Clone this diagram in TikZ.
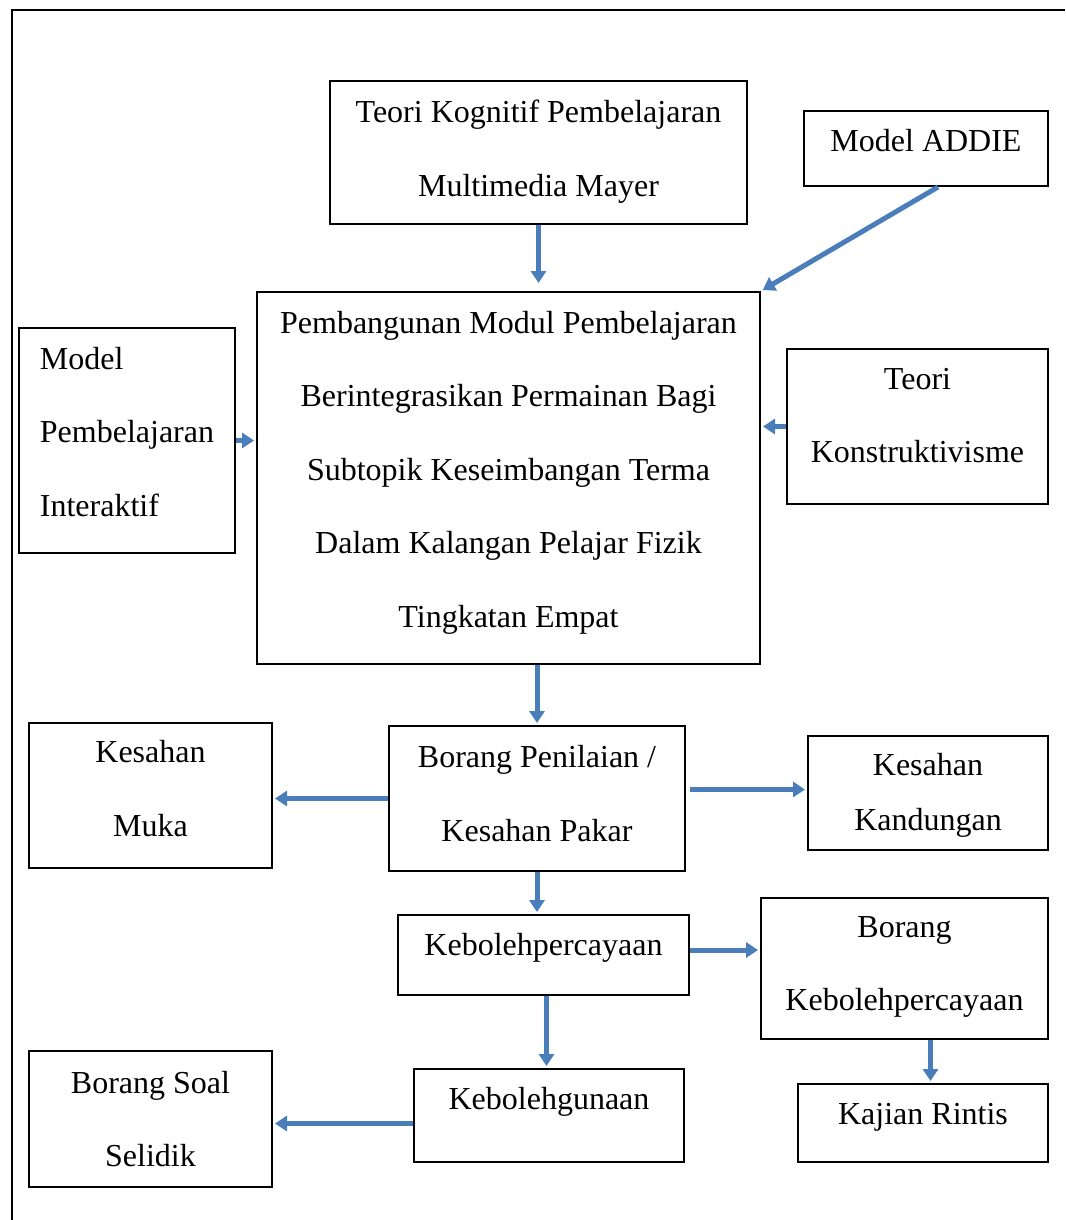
\documentclass[tikz,border=0pt]{standalone}
\usepackage[svgnames]{xcolor}
\usepackage{fontspec}
\setmainfont{Liberation Serif}
\usepackage{tikz}
\usetikzlibrary{arrows.meta,positioning}
\definecolor{arrowblue}{HTML}{4A7EBB}
\tikzset{
    %Define standard arrow tip
    >={Triangle[length=6pt,width=7.5pt]},
    %Define how far the text is pushed up (lift) or down (drop) in its box
    lift/.style={execute at end node=\rule[-#1]{0pt}{0pt}},
    drop/.style={execute at end node=\rule{0pt}{#1}},
    %Define style for boxes
    box/.style={
           rectangle,
           draw=black, line width=1pt,
           inner sep=0pt,
           anchor=north west,
           align=center,
           font=\fontsize{16}{36.75}\selectfont},
    % Define arrow style
    flow/.style={
           ->,
           draw=arrowblue,
           line width=2.5pt,
           shorten >=1pt}
}
\begin{document}
\begin{tikzpicture}[x=0.5pt,y=-0.5pt]
\useasboundingbox (0,0) rectangle (1065,1220);
\draw[line width=1pt] (12,1220) -- (12,10) -- (1065,10);
 %nodes
\node[box, lift=4.2pt, minimum width=208.5pt, minimum height=71.5pt] (kogn) at (329,80)
    {Teori Kognitif Pembelajaran\\Multimedia Mayer};
\node[box, lift=8.4pt, minimum width=122pt, minimum height=37.5pt] (addie) at (803,110)
    {Model ADDIE};
\node[box, lift=8.9pt, minimum width=251.5pt, minimum height=186pt] (pemb) at (256,291)
    {Pembangunan Modul Pembelajaran\\Berintegrasikan Permainan Bagi\\Subtopik Keseimbangan Terma\\Dalam Kalangan Pelajar Fizik\\Tingkatan Empat};
\node[box, lift=8.9pt, align=left, minimum width=108pt, minimum height=112.5pt] (inter) at (18,327)
    {Model\\Pembelajaran\\Interaktif};
\node[box, lift=11.1pt, minimum width=130.5pt, minimum height=77.5pt] (konst) at (786,348)
    {Teori\\Konstruktivisme};
\node[box, lift=7.1pt, minimum width=121.5pt, minimum height=72.5pt] (muka) at (28,722)
    {Kesahan\\Muka};
\node[box, lift=5.1pt, minimum width=148pt, minimum height=72.5pt] (pakar) at (388,725)
    {Borang Penilaian /\\Kesahan Pakar};
\node[box, drop=41.4pt, font=\fontsize{16}{27.5}\selectfont, minimum width=120pt, minimum height=57pt] (kand) at (807,735)
    {Kesahan\\Kandungan};
\node[box, lift=10.9pt, minimum width=145.5pt, minimum height=40pt] (kebp) at (397,914)
    {Kebolehpercayaan};
\node[box, lift=4.8pt, minimum width=143.5pt, minimum height=70.5pt] (bkeb) at (760,897)
    {Borang\\Kebolehpercayaan};
\node[box, minimum width=121.5pt, minimum height=68pt] (soal) at (28,1050)
    {Borang Soal\\Selidik};
\node[box, lift=17pt, minimum width=135pt, minimum height=46.5pt] (guna) at (413,1068)
    {Kebolehgunaan};
\node[box, lift=8.9pt, minimum width=125pt, minimum height=39pt] (rintis) at (797,1083)
    {Kajian Rintis};
 %arrows
\draw[flow, shorten >=4pt] (kogn.south) -- (kogn.south |- pemb.north);
\draw[flow] ([xshift=6pt]addie.south) -- (pemb.north east);
\draw[flow] (inter.east) -- (inter.east -| pemb.west);
\draw[flow] (konst.west) -- (konst.west -| pemb.east);
\draw[flow] (pemb.south -| pakar.north) -- (pakar.north);
\draw[flow] (pakar.west) -- (pakar.west -| muka.east);
\draw[flow, shorten <=2pt] ([yshift=4.5pt]pakar.east) -- ([yshift=4.5pt]pakar.east -| kand.west);
\draw[flow] (pakar.south) -- (pakar.south |- kebp.north);
\draw[flow] ([yshift=2.5pt]kebp.east) -- ([yshift=2.5pt]kebp.east -| bkeb.west);
\draw[flow] ([xshift=1.5pt]kebp.south) -- ([xshift=1.5pt]kebp.south |- guna.north);
\draw[flow] ([xshift=13pt]bkeb.south) -- ([xshift=13pt]bkeb.south |- rintis.north);
\draw[flow] ([yshift=-4pt]guna.west) -- ([yshift=-4pt]guna.west -| soal.east);
\end{tikzpicture}
\end{document}
